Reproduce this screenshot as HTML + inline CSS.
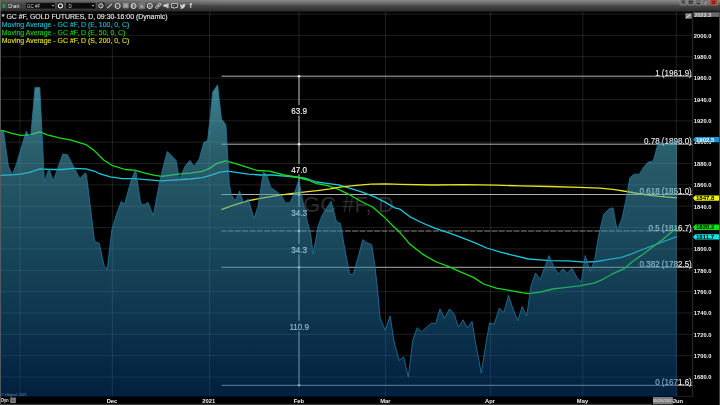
<!DOCTYPE html>
<html><head><meta charset="utf-8"><title>Chart</title>
<style>
html,body{margin:0;padding:0;background:#000;width:720px;height:405px;overflow:hidden}
body{position:relative;font-family:"Liberation Sans",sans-serif}
svg text{white-space:pre}
</style></head><body>
<svg width="720" height="405" viewBox="0 0 720 405" style="position:absolute;left:0;top:0">
<defs>
<linearGradient id="tb" x1="0" y1="0" x2="0" y2="1">
<stop offset="0" stop-color="#8a8a8a"/><stop offset="0.2" stop-color="#747474"/><stop offset="0.40" stop-color="#5c5c5c"/><stop offset="0.46" stop-color="#4a4a4a"/><stop offset="1" stop-color="#282828"/>
</linearGradient>
<linearGradient id="ar" gradientUnits="userSpaceOnUse" x1="0" y1="85" x2="0" y2="397">
<stop offset="0" stop-color="rgb(105,229,245)" stop-opacity="0.580"/>
<stop offset="0.035" stop-color="rgb(101,217,235)" stop-opacity="0.575"/>
<stop offset="0.215" stop-color="rgb(76,168,192)" stop-opacity="0.552"/>
<stop offset="0.5" stop-color="rgb(50,140,175)" stop-opacity="0.515"/>
<stop offset="0.72" stop-color="rgb(31,115,164)" stop-opacity="0.486"/>
<stop offset="0.965" stop-color="rgb(7,75,141)" stop-opacity="0.455"/>
<stop offset="1" stop-color="rgb(4,71,142)" stop-opacity="0.450"/>
</linearGradient>
<linearGradient id="tl" x1="0" y1="0" x2="1" y2="0">
<stop offset="0" stop-color="#000" stop-opacity="0.3"/><stop offset="1" stop-color="#000" stop-opacity="0"/>
</linearGradient>
</defs>
<rect x="0" y="0" width="720" height="405" fill="#000"/>
<line x1="1" x2="692.7" y1="377.00" y2="377.00" stroke="#fff" stroke-opacity="0.12" stroke-width="1"/>
<line x1="1" x2="692.7" y1="355.65" y2="355.65" stroke="#fff" stroke-opacity="0.12" stroke-width="1"/>
<line x1="1" x2="692.7" y1="334.30" y2="334.30" stroke="#fff" stroke-opacity="0.12" stroke-width="1"/>
<line x1="1" x2="692.7" y1="312.95" y2="312.95" stroke="#fff" stroke-opacity="0.12" stroke-width="1"/>
<line x1="1" x2="692.7" y1="291.60" y2="291.60" stroke="#fff" stroke-opacity="0.12" stroke-width="1"/>
<line x1="1" x2="692.7" y1="270.25" y2="270.25" stroke="#fff" stroke-opacity="0.12" stroke-width="1"/>
<line x1="1" x2="692.7" y1="248.90" y2="248.90" stroke="#fff" stroke-opacity="0.12" stroke-width="1"/>
<line x1="1" x2="692.7" y1="227.55" y2="227.55" stroke="#fff" stroke-opacity="0.12" stroke-width="1"/>
<line x1="1" x2="692.7" y1="206.20" y2="206.20" stroke="#fff" stroke-opacity="0.12" stroke-width="1"/>
<line x1="1" x2="692.7" y1="184.85" y2="184.85" stroke="#fff" stroke-opacity="0.12" stroke-width="1"/>
<line x1="1" x2="692.7" y1="163.50" y2="163.50" stroke="#fff" stroke-opacity="0.12" stroke-width="1"/>
<line x1="1" x2="692.7" y1="142.15" y2="142.15" stroke="#fff" stroke-opacity="0.12" stroke-width="1"/>
<line x1="1" x2="692.7" y1="120.80" y2="120.80" stroke="#fff" stroke-opacity="0.12" stroke-width="1"/>
<line x1="1" x2="692.7" y1="99.45" y2="99.45" stroke="#fff" stroke-opacity="0.12" stroke-width="1"/>
<line x1="1" x2="692.7" y1="78.10" y2="78.10" stroke="#fff" stroke-opacity="0.12" stroke-width="1"/>
<line x1="1" x2="692.7" y1="56.75" y2="56.75" stroke="#fff" stroke-opacity="0.12" stroke-width="1"/>
<line x1="1" x2="692.7" y1="35.40" y2="35.40" stroke="#fff" stroke-opacity="0.12" stroke-width="1"/>
<line x1="1" x2="692.7" y1="14.05" y2="14.05" stroke="#fff" stroke-opacity="0.12" stroke-width="1"/>
<line x1="20.0" x2="20.0" y1="12" y2="396.7" stroke="#fff" stroke-opacity="0.12" stroke-width="1"/>
<line x1="112.4" x2="112.4" y1="12" y2="396.7" stroke="#fff" stroke-opacity="0.12" stroke-width="1"/>
<line x1="209.5" x2="209.5" y1="12" y2="396.7" stroke="#fff" stroke-opacity="0.12" stroke-width="1"/>
<line x1="299" x2="299" y1="12" y2="396.7" stroke="#fff" stroke-opacity="0.12" stroke-width="1"/>
<line x1="385.5" x2="385.5" y1="12" y2="396.7" stroke="#fff" stroke-opacity="0.12" stroke-width="1"/>
<line x1="490.5" x2="490.5" y1="12" y2="396.7" stroke="#fff" stroke-opacity="0.12" stroke-width="1"/>
<line x1="582.8" x2="582.8" y1="12" y2="396.7" stroke="#fff" stroke-opacity="0.12" stroke-width="1"/>
<line x1="676.3" x2="676.3" y1="12" y2="396.7" stroke="#fff" stroke-opacity="0.12" stroke-width="1"/>
<text x="303" y="211.8" font-family="Liberation Sans, sans-serif" font-size="22.1" fill="#2e2e2e">GC #F, D</text>
<line x1="221.5" x2="693" y1="76.2" y2="76.2" stroke="#c4c4c4" stroke-width="0.9"/>
<line x1="221.5" x2="693" y1="144.2" y2="144.2" stroke="#c4c4c4" stroke-width="0.9"/>
<line x1="221.5" x2="693" y1="194.5" y2="194.5" stroke="#c4c4c4" stroke-width="0.9"/>
<line x1="221.5" x2="693" y1="231" y2="231" stroke="#9a9a9a" stroke-width="0.9" stroke-dasharray="6.1,1.233" stroke-dashoffset="1.36"/>
<line x1="221.5" x2="693" y1="267.3" y2="267.3" stroke="#c4c4c4" stroke-width="0.9"/>
<line x1="221.5" x2="693" y1="385.3" y2="385.3" stroke="#c4c4c4" stroke-width="0.9"/>
<line x1="299" x2="299" y1="76.2" y2="104.9" stroke="#8e8e8e" stroke-width="1.4"/>
<line x1="299" x2="299" y1="115.4" y2="164.1" stroke="#8e8e8e" stroke-width="1.4"/>
<line x1="299" x2="299" y1="174.6" y2="207.1" stroke="#8e8e8e" stroke-width="1.4"/>
<line x1="299" x2="299" y1="217.6" y2="244.1" stroke="#8e8e8e" stroke-width="1.4"/>
<line x1="299" x2="299" y1="254.6" y2="320.8" stroke="#8e8e8e" stroke-width="1.4"/>
<line x1="299" x2="299" y1="331.3" y2="385.3" stroke="#8e8e8e" stroke-width="1.4"/>
<circle cx="299" cy="76.2" r="1.3" fill="#e8e8e8"/>
<circle cx="299" cy="144.2" r="1.3" fill="#e8e8e8"/>
<circle cx="299" cy="194.5" r="1.3" fill="#e8e8e8"/>
<circle cx="299" cy="231" r="1.3" fill="#e8e8e8"/>
<circle cx="299" cy="267.3" r="1.3" fill="#e8e8e8"/>
<circle cx="299" cy="385.3" r="1.3" fill="#e8e8e8"/>
<polyline points="0.0,175.4 11.9,174.8 20.7,174.2 29.6,172.4 40.0,168.9 50.4,169.5 62.2,169.5 74.0,168.3 85.9,168.9 94.8,171.3 98.5,173.3 110.4,176.9 122.2,178.7 134.0,178.7 148.9,179.9 160.7,180.9 172.6,180.2 190.4,179.0 202.2,177.6 211.1,175.2 220.0,172.2 227.4,171.2 237.8,172.7 248.5,174.1 260.4,175.0 272.2,175.0 284.1,176.1 295.9,177.0 306.3,178.5 316.7,182.0 326.7,183.3 338.5,184.8 350.4,188.4 362.2,192.2 374.1,196.7 385.9,202.6 394.8,207.9 400.0,209.2 409.6,216.6 422.5,223.0 435.3,228.4 448.2,232.6 461.0,237.4 473.9,242.3 486.7,248.0 499.6,251.9 512.4,255.1 528.5,259.0 540.0,259.9 549.6,260.6 567.4,260.9 585.2,262.1 597.0,261.5 608.9,259.4 620.7,257.6 631.1,254.1 640.0,250.5 677.0,236.5" fill="none" stroke="#18ccde" stroke-width="1.3" stroke-linejoin="round"/>
<polyline points="0.0,130.4 4.4,131.0 11.9,133.3 20.7,135.4 29.6,134.8 40.0,131.9 47.4,134.8 59.3,137.8 71.1,140.1 85.9,144.6 94.8,151.1 103.7,160.0 111.9,165.3 125.2,169.5 135.6,170.4 145.9,173.3 154.8,175.4 162.2,176.3 172.6,174.8 180.0,173.9 190.4,173.1 202.2,171.3 209.6,168.4 217.0,163.3 225.9,160.8 234.8,163.3 246.7,167.2 257.4,170.5 269.3,171.1 284.1,175.0 295.9,177.0 307.8,180.0 316.7,183.6 326.7,185.4 338.5,189.3 350.4,195.2 362.2,202.0 372.6,207.0 383.0,215.9 394.8,227.8 400.0,232.6 409.6,243.9 422.5,254.1 435.3,261.5 448.2,266.3 461.0,272.1 473.9,277.6 483.5,284.0 496.3,288.2 509.2,290.4 522.0,292.7 528.5,293.6 540.7,292.0 552.6,289.0 564.4,287.6 579.3,285.8 594.0,283.1 603.0,279.3 611.9,274.2 623.7,268.9 632.6,261.5 640.0,256.4 662.0,240.0 677.0,227.4" fill="none" stroke="#14e014" stroke-width="1.3" stroke-linejoin="round"/>
<polyline points="221.3,209.6 233.7,205.2 248.5,200.7 263.3,197.8 278.1,195.4 293.0,193.3 307.8,191.7 319.6,190.3 330.0,188.9 341.5,186.9 356.3,185.4 371.1,184.2 385.9,183.9 400.7,184.3 432.0,185.0 464.0,184.6 496.0,185.1 520.0,185.9 549.6,186.5 579.3,187.4 600.0,188.2 614.8,189.6 629.6,192.0 644.4,194.7 659.3,196.4 677.0,197.8" fill="none" stroke="#e6e61c" stroke-width="1.3" stroke-linejoin="round"/>
<text transform="translate(299.2,113.6) scale(0.91,1)" text-anchor="middle" font-family="Liberation Sans, sans-serif" font-size="8.9" fill="#f4f4f4" stroke="#f4f4f4" stroke-width="0.15">63.9</text>
<text transform="translate(299.2,172.8) scale(0.91,1)" text-anchor="middle" font-family="Liberation Sans, sans-serif" font-size="8.9" fill="#f4f4f4" stroke="#f4f4f4" stroke-width="0.15">47.0</text>
<text transform="translate(299.2,215.8) scale(0.91,1)" text-anchor="middle" font-family="Liberation Sans, sans-serif" font-size="8.9" fill="#f4f4f4" stroke="#f4f4f4" stroke-width="0.15">34.3</text>
<text transform="translate(299.2,252.8) scale(0.91,1)" text-anchor="middle" font-family="Liberation Sans, sans-serif" font-size="8.9" fill="#f4f4f4" stroke="#f4f4f4" stroke-width="0.15">34.3</text>
<text transform="translate(299.2,329.5) scale(0.91,1)" text-anchor="middle" font-family="Liberation Sans, sans-serif" font-size="8.9" fill="#f4f4f4" stroke="#f4f4f4" stroke-width="0.15">110.9</text>
<text transform="translate(691.8,75.7) scale(0.925,1)" text-anchor="end" font-family="Liberation Sans, sans-serif" font-size="8.7" fill="#ececec" stroke="#ececec" stroke-width="0.1">1 (1961.9)</text>
<text transform="translate(691.8,143.7) scale(0.925,1)" text-anchor="end" font-family="Liberation Sans, sans-serif" font-size="8.7" fill="#ececec" stroke="#ececec" stroke-width="0.1">0.78 (1898.0)</text>
<text transform="translate(691.8,194.0) scale(0.925,1)" text-anchor="end" font-family="Liberation Sans, sans-serif" font-size="8.7" fill="#ececec" stroke="#ececec" stroke-width="0.1">0.618 (1851.0)</text>
<text transform="translate(691.8,230.5) scale(0.925,1)" text-anchor="end" font-family="Liberation Sans, sans-serif" font-size="8.7" fill="#ececec" stroke="#ececec" stroke-width="0.1">0.5 (1816.7)</text>
<text transform="translate(691.8,266.8) scale(0.925,1)" text-anchor="end" font-family="Liberation Sans, sans-serif" font-size="8.7" fill="#ececec" stroke="#ececec" stroke-width="0.1">0.382 (1782.5)</text>
<text transform="translate(691.8,384.8) scale(0.925,1)" text-anchor="end" font-family="Liberation Sans, sans-serif" font-size="8.7" fill="#ececec" stroke="#ececec" stroke-width="0.1">0 (1671.6)</text>
<polygon points="0,396.7 0.0,131.9 3.5,131.0 8.3,166.0 12.4,174.8 16.3,164.4 26.2,131.2 30.6,138.0 35.0,87.4 39.8,87.4 44.4,182.2 48.9,168.9 53.3,180.7 62.8,154.0 67.5,154.7 74.0,167.4 79.8,178.6 85.3,172.8 86.4,174.5 89.9,203.0 94.5,241.3 99.2,243.3 104.1,265.5 107.2,269.3 111.9,229.6 116.3,214.8 121.3,201.5 124.6,203.9 131.0,180.7 135.6,169.5 140.6,203.0 143.9,205.0 148.0,202.4 153.3,215.7 159.3,183.7 162.2,170.7 167.3,151.5 176.1,160.4 179.4,179.6 185.0,166.3 189.8,160.4 194.2,166.3 199.3,158.9 203.7,142.6 207.6,140.5 210.5,114.4 212.6,92.2 217.6,84.8 221.5,118.9 225.9,124.8 229.3,184.4 231.3,194.8 235.2,200.7 239.6,191.0 243.2,202.2 248.5,199.3 253.9,218.5 258.0,206.7 263.3,172.6 266.3,174.0 270.7,187.4 275.8,191.0 280.5,194.8 285.6,202.8 290.0,202.8 294.4,193.3 298.9,180.0 302.4,199.3 306.3,217.0 310.7,234.8 313.2,254.2 318.1,226.0 322.6,214.3 331.2,201.3 336.5,221.9 340.4,223.3 344.7,248.5 349.8,274.3 353.3,274.3 358.4,256.0 362.8,239.6 366.7,242.6 371.7,244.7 374.8,265.0 377.6,290.0 380.1,318.3 385.2,330.2 390.2,316.0 394.1,342.0 399.1,360.4 403.6,356.9 408.3,377.0 412.7,340.6 417.2,327.8 421.6,331.7 426.7,327.2 431.1,323.4 435.6,323.4 440.0,308.9 444.4,318.3 449.5,308.9 454.2,313.9 458.4,327.2 463.1,319.8 467.3,327.8 472.0,321.3 475.5,342.8 481.3,373.1 485.2,348.0 489.6,322.8 494.1,324.3 499.4,308.0 503.9,312.4 508.5,295.4 512.7,308.0 517.8,320.7 522.2,306.5 526.7,316.0 531.1,285.5 535.5,273.1 540.3,279.4 545.2,265.9 549.0,255.6 554.1,267.4 558.5,274.2 563.0,268.9 567.4,273.3 571.9,268.3 577.2,277.8 581.3,282.2 585.2,255.6 590.2,271.3 594.7,260.0 598.5,236.3 603.6,214.5 608.5,209.3 613.0,207.8 617.1,230.6 621.8,219.0 626.0,200.0 629.8,178.0 634.1,174.2 639.4,174.2 643.9,166.8 648.3,162.0 653.3,160.9 657.8,144.3 662.2,142.2 666.7,145.2 671.1,142.2 677.0,140.1 677,396.7" fill="url(#ar)"/>
<polyline points="0.0,131.9 3.5,131.0 8.3,166.0 12.4,174.8 16.3,164.4 26.2,131.2 30.6,138.0 35.0,87.4 39.8,87.4 44.4,182.2 48.9,168.9 53.3,180.7 62.8,154.0 67.5,154.7 74.0,167.4 79.8,178.6 85.3,172.8 86.4,174.5 89.9,203.0 94.5,241.3 99.2,243.3 104.1,265.5 107.2,269.3 111.9,229.6 116.3,214.8 121.3,201.5 124.6,203.9 131.0,180.7 135.6,169.5 140.6,203.0 143.9,205.0 148.0,202.4 153.3,215.7 159.3,183.7 162.2,170.7 167.3,151.5 176.1,160.4 179.4,179.6 185.0,166.3 189.8,160.4 194.2,166.3 199.3,158.9 203.7,142.6 207.6,140.5 210.5,114.4 212.6,92.2 217.6,84.8 221.5,118.9 225.9,124.8 229.3,184.4 231.3,194.8 235.2,200.7 239.6,191.0 243.2,202.2 248.5,199.3 253.9,218.5 258.0,206.7 263.3,172.6 266.3,174.0 270.7,187.4 275.8,191.0 280.5,194.8 285.6,202.8 290.0,202.8 294.4,193.3 298.9,180.0 302.4,199.3 306.3,217.0 310.7,234.8 313.2,254.2 318.1,226.0 322.6,214.3 331.2,201.3 336.5,221.9 340.4,223.3 344.7,248.5 349.8,274.3 353.3,274.3 358.4,256.0 362.8,239.6 366.7,242.6 371.7,244.7 374.8,265.0 377.6,290.0 380.1,318.3 385.2,330.2 390.2,316.0 394.1,342.0 399.1,360.4 403.6,356.9 408.3,377.0 412.7,340.6 417.2,327.8 421.6,331.7 426.7,327.2 431.1,323.4 435.6,323.4 440.0,308.9 444.4,318.3 449.5,308.9 454.2,313.9 458.4,327.2 463.1,319.8 467.3,327.8 472.0,321.3 475.5,342.8 481.3,373.1 485.2,348.0 489.6,322.8 494.1,324.3 499.4,308.0 503.9,312.4 508.5,295.4 512.7,308.0 517.8,320.7 522.2,306.5 526.7,316.0 531.1,285.5 535.5,273.1 540.3,279.4 545.2,265.9 549.0,255.6 554.1,267.4 558.5,274.2 563.0,268.9 567.4,273.3 571.9,268.3 577.2,277.8 581.3,282.2 585.2,255.6 590.2,271.3 594.7,260.0 598.5,236.3 603.6,214.5 608.5,209.3 613.0,207.8 617.1,230.6 621.8,219.0 626.0,200.0 629.8,178.0 634.1,174.2 639.4,174.2 643.9,166.8 648.3,162.0 653.3,160.9 657.8,144.3 662.2,142.2 666.7,145.2 671.1,142.2 677.0,140.1" fill="none" stroke="#1f78a4" stroke-width="0.8" stroke-linejoin="round"/>
<rect x="692.7" y="11.5" width="27.299999999999955" height="393.5" fill="#000"/>
<line x1="692.7" x2="692.7" y1="11.5" y2="396.7" stroke="#3a3a3a" stroke-width="0.8"/>
<text x="693.8" y="379.3" font-family="Liberation Sans, sans-serif" font-size="5.8" font-weight="bold" fill="#f0f0f0">1680.0</text>
<text x="693.8" y="357.9" font-family="Liberation Sans, sans-serif" font-size="5.8" font-weight="bold" fill="#f0f0f0">1700.0</text>
<text x="693.8" y="336.6" font-family="Liberation Sans, sans-serif" font-size="5.8" font-weight="bold" fill="#f0f0f0">1720.0</text>
<text x="693.8" y="315.2" font-family="Liberation Sans, sans-serif" font-size="5.8" font-weight="bold" fill="#f0f0f0">1740.0</text>
<text x="693.8" y="293.9" font-family="Liberation Sans, sans-serif" font-size="5.8" font-weight="bold" fill="#f0f0f0">1760.0</text>
<text x="693.8" y="272.5" font-family="Liberation Sans, sans-serif" font-size="5.8" font-weight="bold" fill="#f0f0f0">1780.0</text>
<text x="693.8" y="251.2" font-family="Liberation Sans, sans-serif" font-size="5.8" font-weight="bold" fill="#f0f0f0">1800.0</text>
<text x="693.8" y="229.8" font-family="Liberation Sans, sans-serif" font-size="5.8" font-weight="bold" fill="#f0f0f0">1820.0</text>
<text x="693.8" y="208.5" font-family="Liberation Sans, sans-serif" font-size="5.8" font-weight="bold" fill="#f0f0f0">1840.0</text>
<text x="693.8" y="187.2" font-family="Liberation Sans, sans-serif" font-size="5.8" font-weight="bold" fill="#f0f0f0">1860.0</text>
<text x="693.8" y="165.8" font-family="Liberation Sans, sans-serif" font-size="5.8" font-weight="bold" fill="#f0f0f0">1880.0</text>
<text x="693.8" y="144.4" font-family="Liberation Sans, sans-serif" font-size="5.8" font-weight="bold" fill="#f0f0f0">1900.0</text>
<text x="693.8" y="123.1" font-family="Liberation Sans, sans-serif" font-size="5.8" font-weight="bold" fill="#f0f0f0">1920.0</text>
<text x="693.8" y="101.7" font-family="Liberation Sans, sans-serif" font-size="5.8" font-weight="bold" fill="#f0f0f0">1940.0</text>
<text x="693.8" y="80.4" font-family="Liberation Sans, sans-serif" font-size="5.8" font-weight="bold" fill="#f0f0f0">1960.0</text>
<text x="693.8" y="59.0" font-family="Liberation Sans, sans-serif" font-size="5.8" font-weight="bold" fill="#f0f0f0">1980.0</text>
<text x="693.8" y="37.7" font-family="Liberation Sans, sans-serif" font-size="5.8" font-weight="bold" fill="#f0f0f0">2000.0</text>
<polygon points="693,139.6 695.2,136.9 719,136.9 719,142.29999999999998 695.2,142.29999999999998" fill="#1b8fd0"/>
<text x="696" y="141.8" font-family="Liberation Sans, sans-serif" font-size="6" font-weight="bold" fill="#fff">1902.5</text>
<polygon points="693,198.1 695.2,195.4 719,195.4 719,200.79999999999998 695.2,200.79999999999998" fill="#f4f400"/>
<text x="696" y="200.3" font-family="Liberation Sans, sans-serif" font-size="6" font-weight="bold" fill="#000">1847.8</text>
<polygon points="693,227.2 695.2,224.5 719,224.5 719,229.89999999999998 695.2,229.89999999999998" fill="#10e010"/>
<text x="696" y="229.4" font-family="Liberation Sans, sans-serif" font-size="6" font-weight="bold" fill="#000">1820.2</text>
<polygon points="693,236.9 695.2,234.20000000000002 719,234.20000000000002 719,239.6 695.2,239.6" fill="#10e4e8"/>
<text x="696" y="239.1" font-family="Liberation Sans, sans-serif" font-size="6" font-weight="bold" fill="#000">1811.7</text>
<rect x="685.4" y="13.3" width="6.3" height="5.4" fill="#8a8a8a"/><path d="M686.4 17.6 L690.6 14.4" stroke="#f0f0f0" stroke-width="0.9"/>
<rect x="693.5" y="12.3" width="26" height="4.6" fill="#6a6a6a"/>
<text x="694.5" y="16.6" font-family="Liberation Sans, sans-serif" font-size="5.5" font-weight="bold" fill="#ddd">2022.3</text>
<rect x="0" y="396.7" width="720" height="8.300000000000011" fill="#000"/>
<text x="112" y="402.8" text-anchor="middle" font-family="Liberation Sans, sans-serif" font-size="5.8" font-weight="bold" fill="#f0f0f0">Dec</text>
<text x="208.7" y="402.8" text-anchor="middle" font-family="Liberation Sans, sans-serif" font-size="5.8" font-weight="bold" fill="#f0f0f0">2021</text>
<text x="298.8" y="402.8" text-anchor="middle" font-family="Liberation Sans, sans-serif" font-size="5.8" font-weight="bold" fill="#f0f0f0">Feb</text>
<text x="385.3" y="402.8" text-anchor="middle" font-family="Liberation Sans, sans-serif" font-size="5.8" font-weight="bold" fill="#f0f0f0">Mar</text>
<text x="490" y="402.8" text-anchor="middle" font-family="Liberation Sans, sans-serif" font-size="5.8" font-weight="bold" fill="#f0f0f0">Apr</text>
<text x="582.5" y="402.8" text-anchor="middle" font-family="Liberation Sans, sans-serif" font-size="5.8" font-weight="bold" fill="#f0f0f0">May</text>
<text x="672.8" y="402.8" font-family="Liberation Sans, sans-serif" font-size="5.8" font-weight="bold" fill="#f0f0f0">Jun</text>
<rect x="653" y="397" width="19.8" height="7.4" fill="#7c7c7c"/>
<text x="653" y="402" font-family="Liberation Sans, sans-serif" font-size="4.2" fill="#e8e8e8">05/26/2021</text>
<text x="1.3" y="402.3" font-family="Liberation Sans, sans-serif" font-size="5" font-weight="bold" textLength="7.2" lengthAdjust="spacingAndGlyphs" fill="#f0f0f0">Dyn</text>
<rect x="10.3" y="397.6" width="5.4" height="5.4" fill="#9a9a9a"/><path d="M11.3 399h3.4M11.3 400.4h3.4M11.3 401.8h3.4" stroke="#333" stroke-width="0.7"/>
<text x="1.2" y="395.6" font-family="Liberation Sans, sans-serif" font-size="3.6" fill="#6f8aa6">© eSignal, 2021</text>
<rect x="0" y="11.5" width="0.9" height="393.5" fill="#5e5e5e"/>
<rect x="719.2" y="11.5" width="0.8" height="393.5" fill="#505050"/>
<rect x="0" y="403.8" width="652" height="1.2" fill="#3c3c3c"/>
<line x1="677" x2="692.7" y1="396.3" y2="396.3" stroke="#343434" stroke-width="0.7"/>
<rect x="0" y="0" width="720" height="11.6" fill="url(#tb)"/>
<rect x="0" y="0" width="230" height="5.6" fill="url(#tl)"/>
<rect x="0" y="0.6" width="0.9" height="11" fill="#6c6c6c"/>
<rect x="2.5" y="3.8" width="2.6" height="4.3" rx="0.5" fill="#1ea040"/>
<rect x="5.9" y="3.6" width="0.5" height="4.8" fill="#777"/>
<text x="8" y="7.7" font-family="Liberation Sans, sans-serif" font-size="4.6" fill="#e2e2e2">Chart</text>
<rect x="25.8" y="2.8" width="29.4" height="6.1" rx="0.6" fill="#0b0b0b" stroke="#5a5a5a" stroke-width="0.4"/>
<text x="27.1" y="7.5" font-family="Liberation Sans, sans-serif" font-size="4.5" fill="#d8d8d8">GC #F</text>
<path d="M51.9 5.1h2.2l-1.1 1.5z" fill="#e0e0e0"/>
<rect x="57.1" y="2.6" width="6.6" height="6.2" rx="1" fill="#1c1c1c"/>
<circle cx="60.4" cy="5.8" r="2.1" fill="none" stroke="#f0f0f0" stroke-width="1.1"/>
<rect x="66" y="2.8" width="29.8" height="6.1" rx="0.6" fill="#0b0b0b" stroke="#5a5a5a" stroke-width="0.4"/>
<text x="68.4" y="7.5" font-family="Liberation Sans, sans-serif" font-size="4.5" fill="#d8d8d8">D</text>
<path d="M91.9 5.1h2.2l-1.1 1.5z" fill="#e0e0e0"/>
<rect x="97.7" y="2.6" width="6.9" height="6.2" rx="1" fill="#1c1c1c"/>
<circle cx="100.9" cy="5.8" r="2.2" fill="none" stroke="#ececec" stroke-width="1"/><path d="M100.9 4.4v1.5l1.2 0.8" stroke="#e0e0e0" stroke-width="0.6" fill="none"/>
<path d="M107.5 8l4.6-4.2" stroke="#222" stroke-width="2.2" stroke-linecap="round"/><path d="M107.6 7.9l4.4-4" stroke="#e4e4e4" stroke-width="1.1" stroke-linecap="round"/>
<circle cx="117.7" cy="6" r="2.5" fill="#262626" stroke="#ececec" stroke-width="1"/><path d="M116.4 7l1-1.2 0.8 0.6 1.1-1.4" stroke="#e0e0e0" stroke-width="0.6" fill="none"/>
<rect x="122.8" y="2.9" width="5.8" height="5.4" rx="0.9" fill="#8e8e8e"/><circle cx="125.9" cy="5.2" r="1.1" fill="none" stroke="#c8c8c8" stroke-width="0.5"/><path d="M126.7 6l0.9 1" stroke="#c8c8c8" stroke-width="0.5"/>
<circle cx="133.6" cy="6" r="2.5" fill="#262626" stroke="#ececec" stroke-width="1"/><rect x="132.6" y="5" width="2" height="2" fill="none" stroke="#e0e0e0" stroke-width="0.6"/>
<rect x="138.7" y="3" width="6" height="5.8" rx="0.9" fill="#6c6c6c" stroke="#9a9a9a" stroke-width="0.4"/><path d="M141 4.2v3h1.9v-1.6" stroke="#e4e4e4" stroke-width="0.6" fill="none"/>
<circle cx="149.8" cy="6" r="2.5" fill="#262626" stroke="#ececec" stroke-width="1"/><path d="M148.6 7h2.4l-1.2-2.1z" fill="none" stroke="#e0e0e0" stroke-width="0.5"/>
<g fill="none" stroke="#e0e0e0" stroke-width="0.9"><rect x="-1.7" y="-1" width="3.2" height="2" rx="1" transform="translate(157.2,6.9) rotate(-42)"/><rect x="-1.7" y="-1" width="3.2" height="2" rx="1" transform="translate(159.5,4.8) rotate(-42)"/></g>
<path d="M163.4 4.6h2.2l2.2-1.7v5.5l-2.2-1.7h-2.2z" fill="#d6d6d6"/><path d="M168.6 3.2v5" stroke="#d6d6d6" stroke-width="0.6"/>
<path d="M171.6 3.6h5.8v3.9h-2.2l-1.2 1.2v-1.2h-2.4z" fill="#2c2c2c" stroke="#e0e0e0" stroke-width="0.8" stroke-linejoin="round"/><path d="M173 5.5h2" stroke="#e0e0e0" stroke-width="0.5"/>
<path transform="translate(179.7,3.2) scale(0.25)" fill="#d2d2d2" d="M23.953 4.57a10 10 0 01-2.825.775 4.958 4.958 0 002.163-2.723c-.951.555-2.005.959-3.127 1.184a4.92 4.92 0 00-8.384 4.482C7.69 8.095 4.067 6.13 1.64 3.162a4.822 4.822 0 00-.666 2.475c0 1.71.87 3.213 2.188 4.096a4.904 4.904 0 01-2.228-.616v.06a4.923 4.923 0 003.946 4.827 4.996 4.996 0 01-2.212.085 4.936 4.936 0 004.604 3.417 9.867 9.867 0 01-6.102 2.105c-.39 0-.779-.023-1.17-.067a13.995 13.995 0 007.557 2.209c9.053 0 13.998-7.496 13.998-13.985 0-.21 0-.42-.015-.63A9.935 9.935 0 0024 4.59z"/>
<text x="189.4" y="8.3" font-family="Liberation Sans, sans-serif" font-size="7.4" font-weight="bold" fill="#d6d6d6">f</text>
<rect x="680" y="-0.5" width="6.2" height="5.6" rx="0.8" fill="#6c6c6c" stroke="#9c9c9c" stroke-width="0.5"/>
<rect x="687.6" y="-0.5" width="6.4" height="5.6" rx="0.8" fill="#6c6c6c" stroke="#9c9c9c" stroke-width="0.5"/>
<rect x="695.2" y="-0.5" width="6.3" height="5.6" rx="0.8" fill="#6c6c6c" stroke="#9c9c9c" stroke-width="0.5"/>
<rect x="702.6" y="-0.5" width="6.0" height="5.6" rx="0.8" fill="#6c6c6c" stroke="#9c9c9c" stroke-width="0.5"/>
<rect x="709.7" y="-0.5" width="7.8" height="5.6" rx="0.8" fill="#b4402e" stroke="#c87868" stroke-width="0.5"/>
<path d="M712.2 1.1l2.8 2.8M715 1.1l-2.8 2.8" stroke="#2a0a06" stroke-width="0.9"/>
<path d="M682.4 1.4h1.3v2.6" stroke="#1c1c1c" stroke-width="0.8" fill="none"/>
<rect x="689.4" y="1.3" width="2.8" height="2.2" fill="none" stroke="#1c1c1c" stroke-width="0.7"/>
<path d="M696.8 3.6h3" stroke="#1c1c1c" stroke-width="0.9"/>
<path d="M704.6 4.2l2-3.4" stroke="#a8a8a8" stroke-width="1.2"/>
<text x="1.8" y="19.3" font-family="Liberation Sans, sans-serif" font-size="6.95" fill="#f0f0f0" stroke="#f0f0f0" stroke-width="0.1">* GC #F, GOLD FUTURES, D, 09:30-16:00 (Dynamic)</text>
<text x="1.8" y="27.1" font-family="Liberation Sans, sans-serif" font-size="6.95" fill="#14c8d8" stroke="#14c8d8" stroke-width="0.1">Moving Average - GC #F, D (E, 100, 0, C)</text>
<text x="1.8" y="34.9" font-family="Liberation Sans, sans-serif" font-size="6.95" fill="#12dc12" stroke="#12dc12" stroke-width="0.1">Moving Average - GC #F, D (E, 50, 0, C)</text>
<text x="1.8" y="42.7" font-family="Liberation Sans, sans-serif" font-size="6.95" fill="#e4e420" stroke="#e4e420" stroke-width="0.1">Moving Average - GC #F, D (S, 200, 0, C)</text>
</svg>
</body></html>
